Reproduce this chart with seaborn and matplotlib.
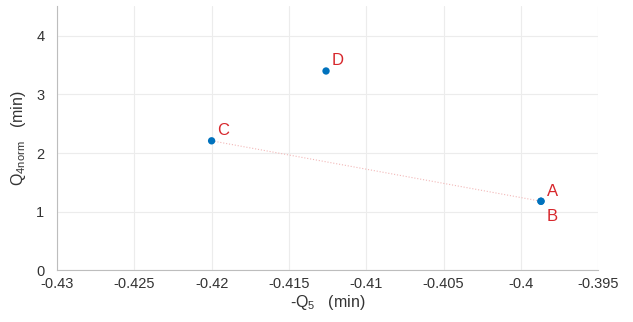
import matplotlib
matplotlib.use('Agg')
import matplotlib.pyplot as plt
from matplotlib.ticker import FuncFormatter
import seaborn as sns
import pandas as pd

# Punktai (A ir B sutampa)
labels = ['A', 'B', 'C', 'D']
neg_q5 = [-0.3987, -0.3987, -0.4200, -0.4126]
q4norm = [1.18, 1.18, 2.21, 3.40]
# Tiesė jungia C ir A/B
line_pts = ['C', 'A']

df = pd.DataFrame({'label': labels, 'q5': neg_q5, 'q4': q4norm})
df_line = df.set_index('label').loc[line_pts].reset_index()

sns.set_style('whitegrid')
plt.rcParams['font.family'] = ['Liberation Sans', 'DejaVu Sans']
plt.rcParams['mathtext.fontset'] = 'custom'
plt.rcParams['mathtext.rm'] = 'Liberation Sans'

fig, ax = plt.subplots(figsize=(6.33, 3.22), dpi=100)
fig.subplots_adjust(left=0.09, right=0.945, top=0.98, bottom=0.16)

sns.lineplot(data=df_line, x='q5', y='q4', ax=ax, color='#f2b8b8', lw=0.8,
             linestyle=':', sort=False, estimator=None)
sns.scatterplot(data=df, x='q5', y='q4', ax=ax, color='#0072bd', s=28,
                edgecolor='none', zorder=3)

# Raidės šalia taškų
offsets = {'A': (4, 4), 'B': (4, -14), 'C': (4, 4), 'D': (4, 4)}
for lab, x, y in zip(labels, neg_q5, q4norm):
    dx, dy = offsets[lab]
    ax.annotate(lab, (x, y), xytext=(dx, dy), textcoords='offset points',
                color='#d7262b', fontsize=12)

ax.set_xlim(-0.43, -0.395)
ax.set_ylim(0, 4.5)
ax.set_xticks([-0.43, -0.425, -0.42, -0.415, -0.41, -0.405, -0.4, -0.395])
ax.set_yticks([0, 1, 2, 3, 4])
ax.xaxis.set_major_formatter(FuncFormatter(lambda v, p: f'{v:g}'))

ax.grid(color='#ececec', lw=0.8)
for s in ['top', 'right']:
    ax.spines[s].set_visible(False)
for s in ['left', 'bottom']:
    ax.spines[s].set_color('#bdbdbd')
    ax.spines[s].set_linewidth(0.8)

ax.tick_params(colors='#333333', labelsize=10.5, length=0)
ax.tick_params(axis='x', pad=5)
ax.tick_params(axis='y', pad=9)
ax.set_xlabel(r'-Q$_\mathrm{5}$   (min)', color='#333333', fontsize=11.5, labelpad=1)
ax.set_ylabel(r'Q$_\mathrm{4norm}$   (min)', color='#333333', fontsize=11.5, labelpad=6)

plt.savefig('out.png', dpi=100)
